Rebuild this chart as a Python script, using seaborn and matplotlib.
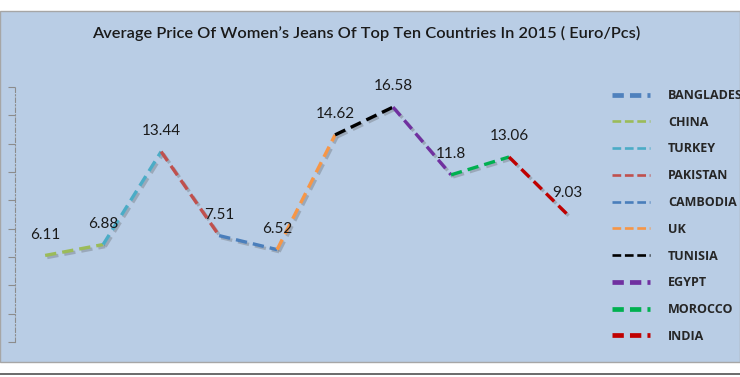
import matplotlib
matplotlib.use("Agg")
import matplotlib.pyplot as plt
import matplotlib.patheffects as pe
from matplotlib.lines import Line2D
from matplotlib.patches import Rectangle
import pandas as pd
import seaborn as sns

countries = ["BANGLADESH", "CHINA", "TURKEY", "PAKISTAN", "CAMBODIA",
             "UK", "TUNISIA", "EGYPT", "MOROCCO", "INDIA"]
prices = [6.11, 6.88, 13.44, 7.51, 6.52, 14.62, 16.58, 11.8, 13.06, 9.03]
colors = ["#4F81BD", "#9BBB59", "#4BACC6", "#C0504D", "#4A7EBB",
          "#F79646", "#000000", "#7030A0", "#00B050", "#C00000"]
thick = [True, False, False, False, False, False, False, True, True, True]

# each country (after the first) draws the segment that ends at its point
rows = []
for i in range(1, len(countries)):
    rows.append({"pos": i - 1, "price": prices[i - 1], "seg": countries[i]})
    rows.append({"pos": i, "price": prices[i], "seg": countries[i]})
df = pd.DataFrame(rows)

sns.set_style("white")
plt.rcParams["font.family"] = ["Lato", "DejaVu Sans"]

fig = plt.figure(figsize=(7.4, 3.77), dpi=100)
fig.patch.set_facecolor("white")
fig.patches.append(Rectangle((0, 15 / 377), 1, 351 / 377, transform=fig.transFigure,
                             facecolor="#B9CDE5", edgecolor="#A6A6A6", lw=1, zorder=-2))
fig.patches.append(Rectangle((0, 2 / 377), 1, 2 / 377, transform=fig.transFigure,
                             facecolor="#6E6E6E", edgecolor="none", zorder=-2))

ax = fig.add_axes([15 / 740, 35 / 377, 581 / 740, 255 / 377])
ax.set_facecolor("none")
ax.set_zorder(2)

shadow = [pe.SimpleLineShadow(offset=(1.5, -1.5), shadow_color="#555555", alpha=0.3),
          pe.Normal()]
for c, col in zip(countries[1:], colors[1:]):
    sns.lineplot(data=df[df["seg"] == c], x="pos", y="price", ax=ax, color=col,
                 lw=2.4, linestyle=(0, (3.4, 1.8)), sort=False, legend=False,
                 path_effects=shadow)

for i, v in enumerate(prices):
    ax.annotate(f"{v:g}", (i, v), xytext=(0, 15), textcoords="offset points",
                ha="center", va="center", fontsize=11, color="#1A1A1A")

ax.set_xlim(-0.52, 9.5)
ax.set_ylim(0, 18)
ax.set_yticks(range(0, 19, 2))
ax.set_yticklabels([])
ax.set_xticks([])
ax.set_xlabel("")
ax.set_ylabel("")
for s in ["top", "right", "bottom"]:
    ax.spines[s].set_visible(False)
ax.spines["left"].set_color("#8C8C8C")
ax.spines["left"].set_linestyle((0, (4, 2, 1, 2)))
ax.spines["left"].set_linewidth(0.8)
ax.tick_params(axis="y", direction="out", length=5, width=0.8, color="#8C8C8C", left=True)

fig.text(366 / 740, 1 - 33 / 377,
         "Average Price Of Women\u2019s Jeans Of Top Ten Countries In 2015 ( Euro/Pcs)",
         ha="center", va="center", fontsize=11.8, color="#1A1A1A", fontweight="semibold")

handles = []
for col, t in zip(colors, thick):
    if t:
        handles.append(Line2D([], [], color=col, lw=3.4, linestyle=(0, (2.4, 1.3))))
    else:
        handles.append(Line2D([], [], color=col, lw=1.9, linestyle=(0, (3.3, 1.4))))
fig.legend(handles, countries, loc="upper left", bbox_to_anchor=(612 / 740, 1 - 89 / 377),
           frameon=False, prop={"family": "Open Sans", "size": 9, "weight": "bold"},
           labelcolor="#262626", handlelength=3.0, handletextpad=1.5, labelspacing=1.1,
           borderpad=0, borderaxespad=0)

fig.savefig("out.png", dpi=100, facecolor=fig.get_facecolor())
